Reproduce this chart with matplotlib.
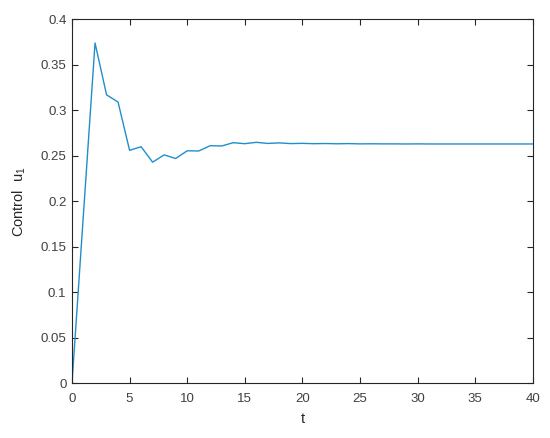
import matplotlib
matplotlib.use("Agg")
import matplotlib.pyplot as plt
import numpy as np

plt.rcParams['font.family'] = ['Liberation Sans', 'DejaVu Sans']
plt.rcParams['mathtext.fontset'] = 'custom'
plt.rcParams['mathtext.rm'] = 'Liberation Sans'
plt.rcParams['mathtext.it'] = 'Liberation Sans'

t = list(range(0, 41))
u1 = [0.0, 0.187, 0.374, 0.317, 0.309, 0.256, 0.260, 0.243, 0.251, 0.247,
      0.2555, 0.2553, 0.2611, 0.2608, 0.2644, 0.2633, 0.2648, 0.2636, 0.2642, 0.2634,
      0.2637, 0.2633, 0.2635, 0.2632, 0.2634, 0.2631, 0.2632, 0.2631, 0.2631, 0.2630,
      0.2631, 0.2630, 0.2630, 0.2630, 0.2630, 0.2630, 0.2630, 0.2630, 0.2630, 0.2630,
      0.2630]
xticks = [0, 5, 10, 15, 20, 25, 30, 35, 40]
yticks = [0, 0.05, 0.1, 0.15, 0.2, 0.25, 0.3, 0.35, 0.4]
yticklabels = ['0', '0.05', '0.1', '0.15', '0.2', '0.25', '0.3', '0.35', '0.4']

fig = plt.figure(figsize=(5.5, 4.38), dpi=100)
ax = fig.add_axes([72/550, (438-383.3)/438, (532.7-72)/550, (383.3-19.3)/438])
ax.plot(t, u1, color='#1f8fcc', linewidth=1.0)
ax.set_xlim(0, 40)
ax.set_ylim(0, 0.4)
ax.set_xticks(xticks)
ax.set_xticklabels([str(x) for x in xticks])
ax.set_yticks(yticks)
ax.set_yticklabels(yticklabels)
axcol = '#262626'
for s in ax.spines.values():
    s.set_color(axcol)
    s.set_linewidth(0.8)
ax.tick_params(direction='in', length=4, width=0.8, colors=axcol, labelsize=9.5,
               top=True, right=True, labelcolor='#404040')
ax.tick_params(axis='x', pad=7)
ax.tick_params(axis='y', pad=4)
ax.set_xlabel('t', fontsize=10.5, color='#262626', labelpad=5)
ax.set_ylabel('Control  u$_1$', fontsize=10.5, color='#262626', labelpad=9)
fig.savefig('out.png', dpi=100)
